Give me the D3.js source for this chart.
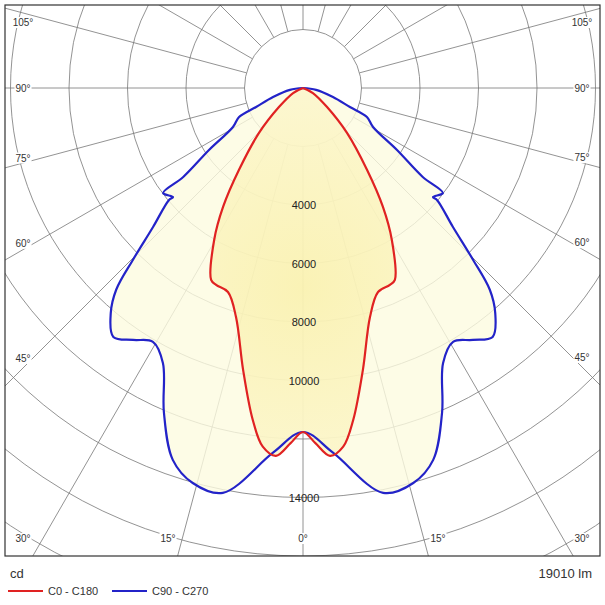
<!DOCTYPE html>
<html><head><meta charset="utf-8">
<script src="https://cdn.jsdelivr.net/npm/d3@7"></script>
<style>body{margin:0;background:#fff}text{font-family:"Liberation Sans",Arial,sans-serif}</style>
</head><body><svg id="c" width="605" height="605"></svg>
<script>
// C0-C180 (red), angle from nadir (deg) and intensity (cd), mirrored for C180
const redAngles = [0, 2, 4.2, 6.4, 8.6, 12, 16.3, 20.2, 23.8, 25.6, 30.3, 33.9, 38, 44.4, 51.6, 63, 90];
const redValues = [11760, 12150, 12610, 12340, 11480, 9850, 8160, 7430, 7360, 7270, 6020, 4900, 3560, 2150, 1050, 380, 0];
// C90-C270 (blue)
const blueAngles = [0, 4.7, 11.2, 15.6, 19.3, 23.2, 27, 30.6, 34, 37.3, 40.5, 42.8, 44.7, 47.2, 50.1, 50, 53.1, 53.4, 56.6, 60.9, 65.6, 68, 73.3, 82, 90];
const blueValues = [11760, 12510, 14110, 14020, 13470, 12070, 10550, 10080, 10390, 10700, 10120, 9400, 8270, 6980, 5980, 5800, 5980, 5100, 3850, 2740, 2400, 1730, 1070, 450, 0];
const gridCircles = [2000,4000,6000,8000,10000,12000,14000,16000,18000,20000,22000];
const intensityLabels = [4000, 6000, 8000, 10000, 14000];
const angleLabels = [0,15,30,45,60,75,90,105];
const legendNames = ["C0 - C180","C90 - C270"];
const unitLabel = "cd", fluxLabel = "19010 lm";

const svg = d3.select("#c");
const cx = 303, cy = 88, fx0 = 5, fx1 = 600, fy0 = 5, fy1 = 556;
const r = d3.scaleLinear().domain([0,2000]).range([0,58.5]);
const rad = a => a*Math.PI/180;
const pt = (a,v) => [cx + Math.sin(rad(a))*r(v), cy + Math.cos(rad(a))*r(v)];

const defs = svg.append("defs");
defs.append("clipPath").attr("id","clip").append("rect")
  .attr("x",fx0).attr("y",fy0).attr("width",fx1-fx0).attr("height",fy1-fy0);
const g1 = defs.append("radialGradient").attr("id","gy").attr("gradientUnits","userSpaceOnUse")
  .attr("cx",cx).attr("cy",cy+200).attr("r",280);
g1.append("stop").attr("offset","0").attr("stop-color","#f9ef a5".replace(" ",""));
g1.append("stop").attr("offset","1").attr("stop-color","#fdf8d8");

const G = svg.append("g").attr("clip-path","url(#clip)");
d3.range(0,360,15).forEach(a=>{
  const [x1,y1]=pt(a,2000),[x2,y2]=pt(a,30000);
  G.append("line").attr("x1",x1).attr("y1",y1).attr("x2",x2).attr("y2",y2).attr("stroke","#777").attr("stroke-width",0.8);
});
gridCircles.forEach(v=>G.append("circle").attr("cx",cx).attr("cy",cy).attr("r",r(v))
  .attr("fill","none").attr("stroke","#777").attr("stroke-width",0.8));

function full(angles, values){
  const right = angles.map((a,i)=>pt(a,values[i]));
  const left = angles.map((a,i)=>pt(-a,values[i])).reverse();
  return left.concat(right.slice(1));
}
const line = d3.line().curve(d3.curveCatmullRom.alpha(0.5));
const blueP = full(blueAngles, blueValues), redP = full(redAngles, redValues);
G.append("path").attr("d",line(blueP)+"Z").attr("fill","#fdfbe0").attr("opacity",0.8);
G.append("path").attr("d",line(redP)+"Z").attr("fill","url(#gy)").attr("opacity",0.75);
G.append("path").attr("d",line(blueP)).attr("fill","none").attr("stroke","#2323c8").attr("stroke-width",2.2);
G.append("path").attr("d",line(redP)).attr("fill","none").attr("stroke","#e02222").attr("stroke-width",2.2);

intensityLabels.forEach(v=>svg.append("text").attr("x",cx+1).attr("y",pt(0,v)[1]+4)
  .attr("text-anchor","middle").attr("font-size",11).attr("fill","#222").text(v));

function edge(a){
  const dx=Math.sin(rad(a)), dy=Math.cos(rad(a));
  let t=1e9;
  if(dx>0) t=Math.min(t,(fx1-16-cx)/dx); if(dx<0) t=Math.min(t,(fx0+16-cx)/dx);
  if(dy>0) t=Math.min(t,(fy1-18-cy)/dy); if(dy<0) t=Math.min(t,(fy0+17-cy)/dy);
  return [cx+dx*t, cy+dy*t];
}
angleLabels.forEach(a=>[-1,1].forEach(s=>{
  if(a===0 && s<0) return;
  let [x,y]=edge(s*a);
  if(a>=45){ x = s<0 ? fx0+18 : fx1-18; y = y - (a===45?12:a===60?8:a===75?6:0); if(a===105) y=22; }
  else if(a===30){ x = s<0 ? fx0+18 : fx1-18; y = fy1-18; }
  else if(a===15){ x = cx + s*135; y = fy1-18; }
  else { y = fy1-18; }
  const tx = svg.append("text").attr("x",x).attr("y",y+4).attr("text-anchor","middle")
    .attr("font-size",10).attr("fill","#333").text(a+"°");
  const b = tx.node().getBBox();
  svg.insert("rect", () => tx.node()).attr("x",b.x-1).attr("y",b.y).attr("width",b.width+2).attr("height",b.height).attr("fill","#fff");
}));

svg.append("rect").attr("x",fx0).attr("y",fy0).attr("width",fx1-fx0).attr("height",fy1-fy0)
  .attr("fill","none").attr("stroke","#333").attr("stroke-width",1.2);

svg.append("text").attr("x",10).attr("y",578).attr("font-size",13).attr("fill","#333").text(unitLabel);
svg.append("text").attr("x",592).attr("y",578).attr("text-anchor","end").attr("font-size",13).attr("fill","#333").text(fluxLabel);
const colors=["#e02222","#2323c8"];
legendNames.forEach((n,i)=>{
  const x0 = i? 112:8;
  svg.append("line").attr("x1",x0).attr("x2",x0+35).attr("y1",591).attr("y2",591).attr("stroke",colors[i]).attr("stroke-width",2.2);
  svg.append("text").attr("x",x0+40).attr("y",595).attr("font-size",11).attr("fill","#333").text(n);
});
</script></body></html>
